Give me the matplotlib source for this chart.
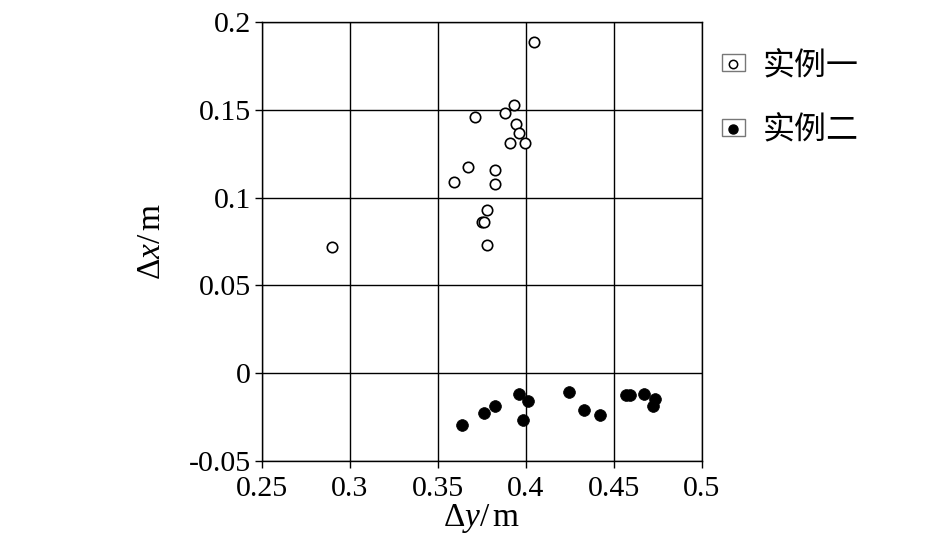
import matplotlib
matplotlib.use("Agg")
import matplotlib.pyplot as plt
from matplotlib.patches import Rectangle
from matplotlib.lines import Line2D
from matplotlib.legend_handler import HandlerTuple

plt.rcParams['font.family'] = ['Liberation Serif', 'Noto Sans CJK SC', 'DejaVu Sans']
plt.rcParams['mathtext.fontset'] = 'custom'
plt.rcParams['mathtext.rm'] = 'Liberation Serif'
plt.rcParams['mathtext.it'] = 'Liberation Serif:italic'

# Case 1 (open circles)
dy1 = [0.4043, 0.3933, 0.3880, 0.3713, 0.3941, 0.3961, 0.3910, 0.3994, 0.3669,
       0.3825, 0.3591, 0.3825, 0.3779, 0.3749, 0.3764, 0.3779, 0.2900]
dx1 = [0.1888, 0.1528, 0.1479, 0.1458, 0.1420, 0.1369, 0.1311, 0.1311, 0.1174,
       0.1157, 0.1089, 0.1078, 0.0930, 0.0860, 0.0860, 0.0731, 0.0718]
# Case 2 (filled circles)
dy2 = [0.3639, 0.3762, 0.3823, 0.3961, 0.4013, 0.3984, 0.4243, 0.4330, 0.4419,
       0.4571, 0.4592, 0.4673, 0.4734, 0.4721]
dx2 = [-0.0297, -0.0227, -0.0186, -0.0118, -0.0157, -0.0267, -0.0106, -0.0209,
       -0.0237, -0.0125, -0.0125, -0.0118, -0.0148, -0.0186]

labels = ['实例一', '实例二']
xticks = [0.25, 0.3, 0.35, 0.4, 0.45, 0.5]
xticklabels = ['0.25', '0.3', '0.35', '0.4', '0.45', '0.5']
yticks = [-0.05, 0, 0.05, 0.1, 0.15, 0.2]
yticklabels = ['-0.05', '0', '0.05', '0.1', '0.15', '0.2']

fig = plt.figure(figsize=(9.45, 5.43), dpi=100)
ax = fig.add_axes([262/945, 1-461/543, (702-262)/945, (461-22)/543])

ax.scatter(dy1, dx1, s=56, facecolors='white', edgecolors='black', linewidths=1.2, zorder=3)
ax.scatter(dy2, dx2, s=72, facecolors='black', edgecolors='black', linewidths=0.5, zorder=3)

ax.set_xlim(0.25, 0.5)
ax.set_ylim(-0.05, 0.2)
ax.set_xticks(xticks)
ax.set_xticklabels(xticklabels)
ax.set_yticks(yticks)
ax.set_yticklabels(yticklabels)
ax.grid(True, color='black', linewidth=1.0)
ax.set_axisbelow(True)
for s in ax.spines.values():
    s.set_linewidth(1.0)
ax.tick_params(direction='out', length=5, width=1.0, labelsize=21.5)
ax.tick_params(axis='x', pad=6)
ax.tick_params(axis='y', pad=3)

ax.set_xlabel(r'$\Delta\mathit{y}/\,\mathrm{m}$', fontsize=24, labelpad=0)
ax.set_ylabel(r'$\Delta\mathit{x}/\,\mathrm{m}$', fontsize=24, labelpad=16)

box1 = Rectangle((0, 0), 1, 1, facecolor='white', edgecolor='#777777', linewidth=1.0)
box2 = Rectangle((0, 0), 1, 1, facecolor='white', edgecolor='#777777', linewidth=1.0)
m1 = Line2D([], [], marker='o', linestyle='none', markersize=6,
            markerfacecolor='white', markeredgecolor='black', markeredgewidth=1.1)
m2 = Line2D([], [], marker='o', linestyle='none', markersize=6.5,
            markerfacecolor='black', markeredgecolor='black')
leg = fig.legend([(box1, m1), (box2, m2)], labels,
                 handler_map={tuple: HandlerTuple(ndivide=1, pad=0)},
                 loc='upper left', bbox_to_anchor=(722/945, 1-49/543),
                 borderpad=0, borderaxespad=0,
                 frameon=False, handlelength=0.72, handleheight=0.45,
                 handletextpad=0.55, labelspacing=1.03,
                 prop={'family': ['Noto Sans CJK SC'], 'size': 23})

fig.savefig('out.png', dpi=100)
